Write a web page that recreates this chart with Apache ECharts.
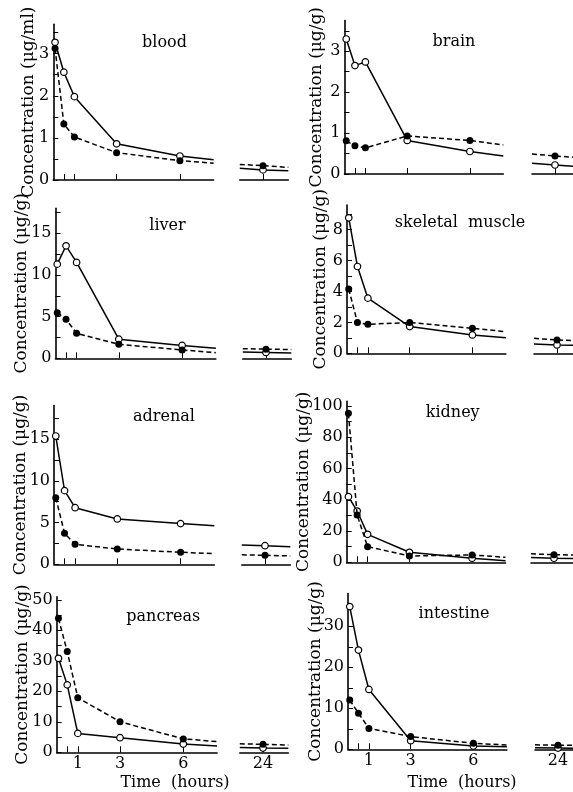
<!DOCTYPE html>
<html>
<head>
<meta charset="utf-8">
<script src="https://cdn.jsdelivr.net/npm/echarts@6.0.0/dist/echarts.min.js"></script>
<style>
  html, body { margin: 0; padding: 0; background: #fff; }
  #chart { width: 573px; height: 792px; }
</style>
</head>
<body>
<div id="chart"></div>
<script>
// organs in reading order (left column, right column, row by row)
const organs = ['blood', 'brain', 'liver', 'skeletal  muscle', 'adrenal', 'kidney', 'pancreas', 'intestine'];
const units = ['μg/ml', 'μg/g', 'μg/g', 'μg/g', 'μg/g', 'μg/g', 'μg/g', 'μg/g'];

// sampling times (h); last one is where the drawn curve runs off the axis
const sampleHours = [0.083, 0.5, 1, 3, 6, 7.6];
// 24 h piece after the axis break: left end, 24 h, right end
const lateHours = [22.9, 24, 25.2];
const xTickHours = [0.5, 1, 3, 6];
const xLabelHours = [1, 3, 6];

// open circles, solid line
const openMain = [
  [3.27, 2.56, 1.98, 0.86, 0.57, 0.48],
  [3.3, 2.65, 2.74, 0.82, 0.55, 0.44],
  [11.3, 13.5, 11.5, 2.3, 1.55, 1.2],
  [8.77, 5.62, 3.57, 1.73, 1.19, 1.0],
  [15.36, 8.82, 6.78, 5.43, 4.87, 4.63],
  [42, 32.8, 17.9, 6.4, 2.6, 1.0],
  [30.8, 22.1, 6.2, 4.8, 2.7, 2.1],
  [34.8, 24.2, 14.6, 2.1, 0.8, 0.6]
];
// filled circles, dashed line
const filledMain = [
  [3.13, 1.33, 1.02, 0.65, 0.46, 0.40],
  [0.81, 0.69, 0.64, 0.93, 0.82, 0.71],
  [5.47, 4.68, 3.0, 1.68, 1.0, 0.68],
  [4.16, 1.99, 1.88, 1.99, 1.62, 1.4],
  [7.98, 3.71, 2.39, 1.83, 1.44, 1.27],
  [95.3, 30.3, 10, 4.05, 4.7, 3.2],
  [43.9, 33, 17.9, 10, 4.4, 3.5],
  [12, 8.8, 5.1, 3.1, 1.46, 1.05]
];
const openLate = [
  [0.28, 0.24, 0.22],
  [0.26, 0.22, 0.18],
  [0.75, 0.7, 0.65],
  [0.6, 0.54, 0.5],
  [2.3, 2.23, 2.1],
  [3.0, 2.6, 2.3],
  [1.6, 1.4, 1.3],
  [0.35, 0.3, 0.25]
];
const filledLate = [
  [0.37, 0.34, 0.30],
  [0.49, 0.44, 0.40],
  [1.15, 1.1, 1.05],
  [0.97, 0.86, 0.8],
  [1.13, 1.08, 1.0],
  [5.4, 4.9, 4.5],
  [2.8, 2.6, 2.4],
  [1.1, 1.0, 0.95]
];

const yMax = [3.7, 3.75, 18, 9.6, 19, 103, 51, 38];
const yLabels = [
  [0, 1, 2, 3], [0, 1, 2, 3], [0, 5, 10, 15], [0, 2, 4, 6, 8],
  [0, 5, 10, 15], [0, 20, 40, 60, 80, 100], [0, 10, 20, 30, 40, 50], [0, 10, 20, 30]
];
const yTickStep = [0.5, 0.5, 2.5, 1, 2.5, 10, 5, 5];

// page layout of each panel (pixels)
const panels = [
  { ox: 53.3, top: 24.2, zero: 180, pxh: 21.1, tx: 263, gap: 16, title: [164.5, 43] },
  { ox: 344.5, top: 20.6, zero: 174, pxh: 20.9, tx: 555, gap: 19, title: [454, 42] },
  { ox: 55.5, top: 208.3, zero: 358.3, pxh: 21.1, tx: 266, gap: 25, title: [167.5, 226] },
  { ox: 347, top: 205, zero: 353.3, pxh: 20.9, tx: 557, gap: 18, title: [460, 223] },
  { ox: 54, top: 405.6, zero: 564.3, pxh: 21.1, tx: 265, gap: 25, title: [164, 417] },
  { ox: 346.7, top: 401.3, zero: 562.3, pxh: 20.9, tx: 554, gap: 35, title: [452.7, 413] },
  { ox: 56.7, top: 596.7, zero: 752.3, pxh: 21.1, tx: 263, gap: 26, title: [163.3, 617] },
  { ox: 348, top: 593.5, zero: 749.3, pxh: 20.9, tx: 558, gap: 24, title: [454, 614] }
];
const timeLabelPos = [[175, 783], [462, 783]];

const serif = 'DejaVu Serif';
const black = '#000';

const grids = [];
const xAxes = [];
const yAxes = [];
const series = [];
const graphics = [];

function ticksUpTo(step, max) {
  const out = [];
  for (let v = 0; v <= max + 1e-9; v += step) out.push(Math.round(v * 1000) / 1000);
  return out;
}

function pointData(hours, values, symbolIndex) {
  return hours.map((h, i) => ({
    value: [h, values[i]],
    symbol: symbolIndex(i) ? 'circle' : 'none'
  }));
}

panels.forEach((p, i) => {
  const bottomRow = i >= 6;
  const height = p.zero - p.top;
  const mainWidth = sampleHours[sampleHours.length - 1] * p.pxh;
  const lateLeft = p.tx - (24 - lateHours[0]) * p.pxh;
  const lateWidth = (lateHours[2] - lateHours[0]) * p.pxh;

  grids.push({ left: p.ox, top: p.top, width: mainWidth, height: height, outerBoundsMode: 'none' });
  grids.push({ left: lateLeft, top: p.top, width: lateWidth, height: height, outerBoundsMode: 'none' });
  const gMain = grids.length - 2;
  const gLate = grids.length - 1;

  const axisLine = { show: true, onZero: false, lineStyle: { color: black, width: 1.6 } };
  const labelStyle = { color: black, fontFamily: serif, fontSize: 16 };

  xAxes.push({
    gridIndex: gMain, type: 'value', min: 0, max: sampleHours[sampleHours.length - 1],
    axisLine: axisLine,
    axisTick: { show: true, inside: true, length: 6, customValues: xTickHours, lineStyle: { color: black, width: 1 } },
    axisLabel: Object.assign({ show: bottomRow, margin: 4, customValues: xLabelHours }, labelStyle),
    splitLine: { show: false }
  });
  xAxes.push({
    gridIndex: gLate, type: 'value', min: lateHours[0], max: lateHours[2],
    axisLine: axisLine,
    axisTick: { show: true, inside: true, length: 6, customValues: [24], lineStyle: { color: black, width: 1 } },
    axisLabel: Object.assign({ show: bottomRow, margin: 4, customValues: [24] }, labelStyle),
    splitLine: { show: false }
  });

  yAxes.push({
    gridIndex: gMain, type: 'value', min: 0, max: yMax[i],
    axisLine: axisLine,
    axisTick: { show: true, inside: true, length: 5, customValues: ticksUpTo(yTickStep[i], yMax[i]), lineStyle: { color: black, width: 1 } },
    axisLabel: Object.assign({ margin: 4, customValues: yLabels[i] }, labelStyle),
    splitLine: { show: false },
    name: 'Concentration (' + units[i] + ')',
    nameLocation: 'middle',
    nameGap: p.gap,
    nameMoveOverlap: false,
    nameTextStyle: { color: black, fontFamily: serif, fontSize: 17 }
  });
  yAxes.push({ gridIndex: gLate, type: 'value', min: 0, max: yMax[i], show: false });

  const openStyle = {
    type: 'line', symbolSize: 6.5, z: 3,
    lineStyle: { color: black, width: 1.5, type: 'solid' },
    itemStyle: { color: '#fff', borderColor: black, borderWidth: 1.2 }
  };
  const filledStyle = {
    type: 'line', symbolSize: 7, z: 4,
    lineStyle: { color: black, width: 1.5, type: [5, 3] },
    itemStyle: { color: black, borderColor: black, borderWidth: 0 }
  };
  const lastIdx = sampleHours.length - 1;

  series.push(Object.assign({}, openStyle, {
    xAxisIndex: gMain, yAxisIndex: gMain,
    data: pointData(sampleHours, openMain[i], (k) => k !== lastIdx)
  }));
  series.push(Object.assign({}, filledStyle, {
    xAxisIndex: gMain, yAxisIndex: gMain,
    data: pointData(sampleHours, filledMain[i], (k) => k !== lastIdx)
  }));
  series.push(Object.assign({}, openStyle, {
    xAxisIndex: gLate, yAxisIndex: gLate,
    data: pointData(lateHours, openLate[i], (k) => k === 1)
  }));
  series.push(Object.assign({}, filledStyle, {
    xAxisIndex: gLate, yAxisIndex: gLate,
    data: pointData(lateHours, filledLate[i], (k) => k === 1)
  }));

  graphics.push({
    type: 'text', x: p.title[0], y: p.title[1],
    style: {
      text: organs[i], fill: black, font: '16px "DejaVu Serif"',
      textAlign: 'center', textVerticalAlign: 'middle', align: 'center', verticalAlign: 'middle'
    }
  });
});

timeLabelPos.forEach((pos) => {
  graphics.push({
    type: 'text', x: pos[0], y: pos[1],
    style: {
      text: 'Time  (hours)', fill: black, font: '16px "DejaVu Serif"',
      textAlign: 'center', textVerticalAlign: 'middle', align: 'center', verticalAlign: 'middle'
    }
  });
});

const chart = echarts.init(document.getElementById('chart'), null, { renderer: 'canvas' });
chart.setOption({
  animation: false,
  backgroundColor: '#fff',
  grid: grids,
  xAxis: xAxes,
  yAxis: yAxes,
  series: series,
  graphic: graphics
});
</script>
</body>
</html>
